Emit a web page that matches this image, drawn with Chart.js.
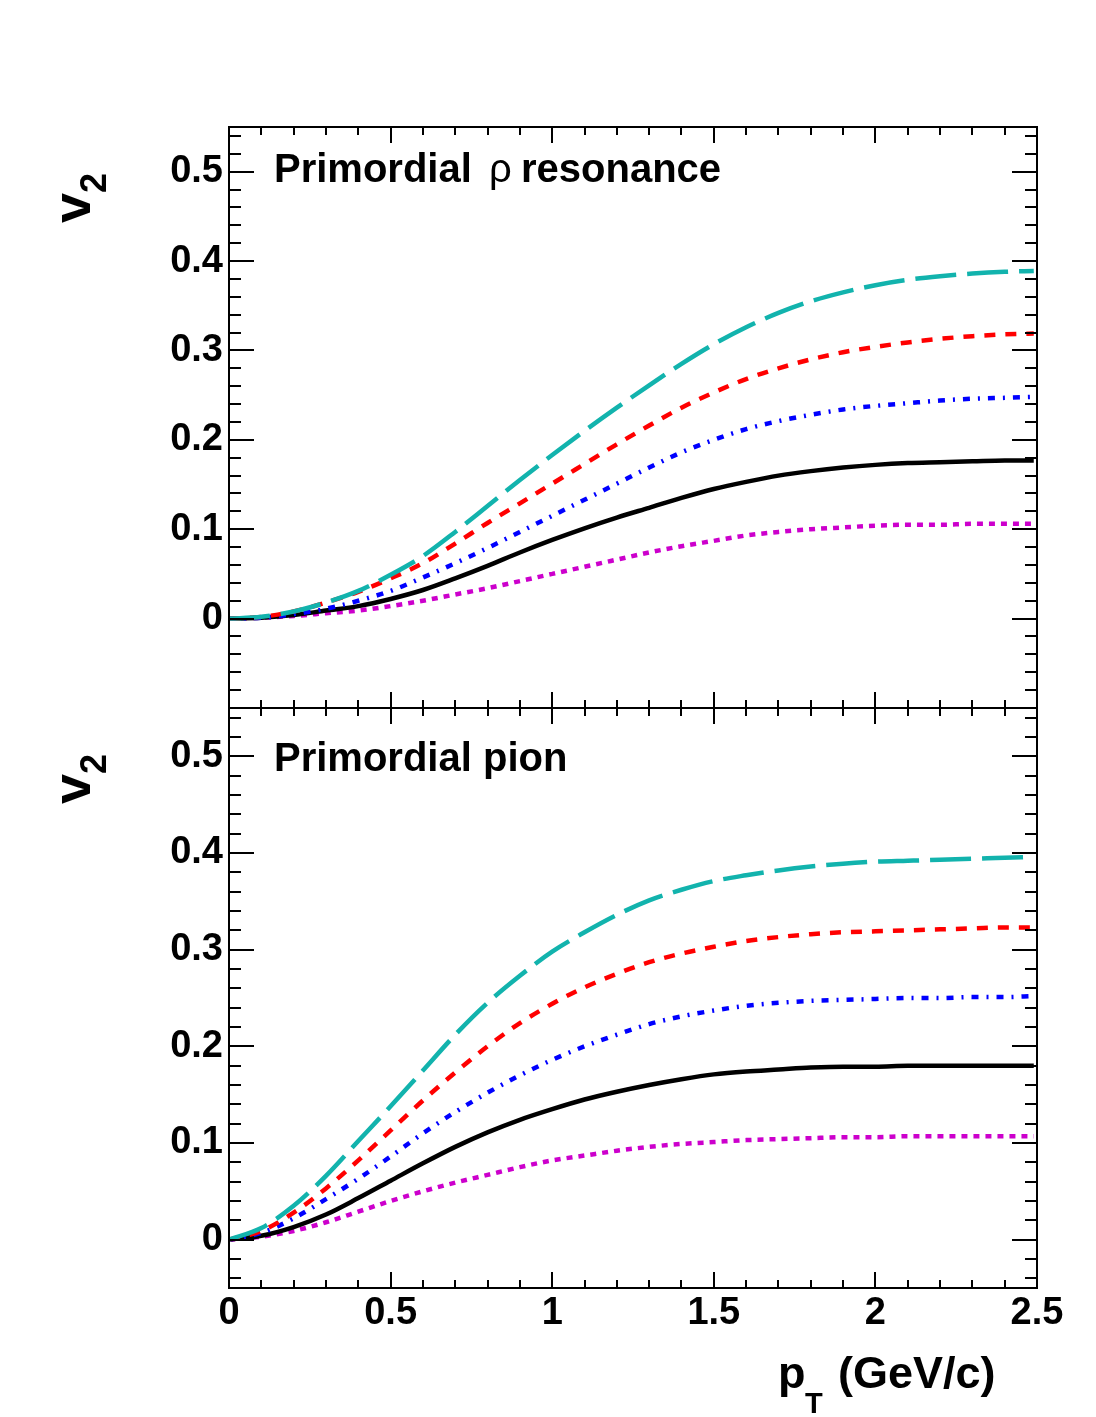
<!DOCTYPE html>
<html>
<head>
<meta charset="utf-8">
<script src="https://cdn.jsdelivr.net/npm/chart.js@4"></script>
<style>
  html, body { margin: 0; background: #fff; }
  canvas { position: absolute; left: 0; top: 0; }
</style>
</head>
<body>
<canvas id="rhoChart" width="1096" height="1417"></canvas>
<canvas id="pionChart" width="1096" height="1417"></canvas>
<script>
// pT grid (GeV/c) shared by every curve
const ptGrid = [0, 0.1, 0.2, 0.3, 0.4, 0.5, 0.6, 0.7, 0.8, 0.9, 1.0, 1.1, 1.2,
  1.3, 1.4, 1.5, 1.6, 1.7, 1.8, 1.9, 2.0, 2.1, 2.2, 2.3, 2.4, 2.49];

// top panel: primordial rho resonance
const rhoCyan = [0, 0.002, 0.008, 0.018, 0.031, 0.049, 0.070, 0.097, 0.126, 0.155, 0.183, 0.210, 0.236,
  0.261, 0.285, 0.307, 0.326, 0.342, 0.355, 0.365, 0.373, 0.379, 0.383, 0.386, 0.388, 0.389];
const rhoRed = [0, 0.002, 0.008, 0.018, 0.030, 0.045, 0.062, 0.084, 0.107, 0.129, 0.151, 0.173, 0.195,
  0.216, 0.236, 0.253, 0.268, 0.280, 0.290, 0.298, 0.304, 0.309, 0.313, 0.316, 0.318, 0.319];
const rhoBlue = [0, 0.001, 0.005, 0.011, 0.020, 0.031, 0.046, 0.062, 0.079, 0.097, 0.115, 0.133, 0.151,
  0.169, 0.186, 0.200, 0.212, 0.221, 0.228, 0.234, 0.238, 0.241, 0.244, 0.246, 0.247, 0.248];
const rhoBlack = [0, 0.001, 0.004, 0.009, 0.014, 0.022, 0.032, 0.045, 0.059, 0.074, 0.088, 0.101, 0.113,
  0.124, 0.135, 0.145, 0.153, 0.160, 0.165, 0.169, 0.172, 0.174, 0.175, 0.176, 0.177, 0.177];
const rhoMagenta = [0, 0.001, 0.003, 0.006, 0.009, 0.014, 0.020, 0.027, 0.034, 0.042, 0.050, 0.058, 0.066,
  0.074, 0.081, 0.087, 0.093, 0.097, 0.100, 0.102, 0.104, 0.105, 0.105, 0.106, 0.106, 0.106];

// bottom panel: primordial pion
const pionCyan = [0, 0.012, 0.035, 0.066, 0.102, 0.138, 0.175, 0.212, 0.245, 0.273, 0.298, 0.318, 0.336,
  0.351, 0.362, 0.371, 0.377, 0.382, 0.386, 0.389, 0.391, 0.392, 0.393, 0.394, 0.395, 0.396];
const pionRed = [0, 0.009, 0.028, 0.053, 0.082, 0.113, 0.144, 0.173, 0.200, 0.224, 0.244, 0.261, 0.275,
  0.287, 0.296, 0.303, 0.309, 0.313, 0.316, 0.318, 0.319, 0.320, 0.321, 0.322, 0.323, 0.323];
const pionBlue = [0, 0.007, 0.022, 0.042, 0.063, 0.086, 0.110, 0.132, 0.152, 0.170, 0.186, 0.200, 0.212,
  0.223, 0.231, 0.237, 0.242, 0.245, 0.247, 0.248, 0.249, 0.250, 0.250, 0.251, 0.251, 0.252];
const pionBlack = [0, 0.004, 0.013, 0.026, 0.043, 0.061, 0.079, 0.096, 0.111, 0.124, 0.135, 0.145, 0.153,
  0.160, 0.166, 0.171, 0.174, 0.176, 0.178, 0.179, 0.179, 0.180, 0.180, 0.180, 0.180, 0.180];
const pionMagenta = [0, 0.003, 0.009, 0.018, 0.029, 0.040, 0.050, 0.059, 0.067, 0.075, 0.082, 0.087, 0.092,
  0.096, 0.099, 0.101, 0.103, 0.104, 0.105, 0.106, 0.106, 0.107, 0.107, 0.107, 0.107, 0.107];

// tick labels
const xTicks = [0, 0.5, 1, 1.5, 2, 2.5];
const yTicks = [0, 0.1, 0.2, 0.3, 0.4, 0.5];

const FONT = '"Liberation Sans", Arial, Helvetica, sans-serif';
Chart.defaults.font.family = FONT;

const lineStyles = [
  { color: '#12b3ad', dash: [41, 11] },
  { color: '#ff0000', dash: [11, 10] },
  { color: '#0000ff', dash: [7, 8, 2, 8] },
  { color: '#000000', dash: [] },
  { color: '#cc00cc', dash: [6, 6] }
];

function makeDatasets(series) {
  return series.map((vals, i) => ({
    data: ptGrid.map((p, j) => ({ x: p, y: vals[j] })),
    borderColor: lineStyles[i].color,
    borderDash: lineStyles[i].dash,
    borderWidth: 4.5,
    borderCapStyle: 'butt',
    pointRadius: 0,
    fill: false,
    cubicInterpolationMode: 'monotone'
  }));
}

function fmt(v) {
  return v === 0 ? '0' : String(Math.round(v * 10) / 10);
}

// ROOT-like frame with inward ticks on all four sides, plus text
const rootFrame = {
  id: 'rootFrame',
  afterDraw(chart, args, opts) {
    const ctx = chart.ctx;
    const a = chart.chartArea;
    const xs = chart.scales.x, ys = chart.scales.y;
    ctx.save();
    ctx.strokeStyle = '#000';
    ctx.lineWidth = 2;
    ctx.beginPath();
    for (let k = 0; k <= 25; k++) {
      const px = Math.round(xs.getPixelForValue(k / 10));
      const len = k % 5 === 0 ? 16 : 8;
      ctx.moveTo(px, a.top); ctx.lineTo(px, a.top + len);
      ctx.moveTo(px, a.bottom); ctx.lineTo(px, a.bottom - len);
    }
    const kMin = Math.ceil(ys.min / 0.02 - 1e-6), kMax = Math.floor(ys.max / 0.02 + 1e-6);
    for (let k = kMin; k <= kMax; k++) {
      const py = Math.round(ys.getPixelForValue(k * 0.02));
      const len = k % 5 === 0 ? 25 : 12;
      ctx.moveTo(a.left, py); ctx.lineTo(a.left + len, py);
      ctx.moveTo(a.right, py); ctx.lineTo(a.right - len, py);
    }
    ctx.stroke();
    ctx.strokeRect(a.left, a.top, a.right - a.left, a.bottom - a.top);

    ctx.fillStyle = '#000';
    ctx.textBaseline = 'alphabetic';
    ctx.textAlign = 'left';
    // panel label
    opts.label.forEach(part => {
      ctx.font = part.weight + ' 40px ' + FONT;
      ctx.fillText(part.text, part.x, opts.labelY);
    });

    // y title v_2, rotated, aligned to the top of the panel
    ctx.save();
    ctx.translate(90, a.top + 46);
    ctx.rotate(-Math.PI / 2);
    ctx.font = 'bold 36px ' + FONT;
    const w2 = ctx.measureText('2').width;
    ctx.textAlign = 'right';
    ctx.fillText('2', 0, 16);
    ctx.font = 'bold 54px ' + FONT;
    ctx.fillText('v', -w2, 0);
    ctx.restore();

    // x title p_T (GeV/c)
    if (opts.xTitle) {
      ctx.font = 'bold 45px ' + FONT;
      ctx.fillText('p', 778, 1388);
      ctx.fillText('(GeV/c)', 838, 1388);
      ctx.font = 'bold 29px ' + FONT;
      ctx.fillText('T', 805, 1413);
    }
    ctx.restore();
  }
};

function makeOptions(yMin, isBottom, panel) {
  return {
    responsive: false,
    animation: false,
    devicePixelRatio: 1,
    layout: { padding: { top: isBottom ? 708 : 127, bottom: isBottom ? 0 : 1417 - 708, left: 0, right: 59 } },
    plugins: {
      legend: { display: false },
      tooltip: { enabled: false },
      rootFrame: panel
    },
    scales: {
      x: {
        type: 'linear', min: 0, max: 2.5,
        display: isBottom,
        grid: { display: false, drawTicks: false },
        border: { display: false },
        afterBuildTicks: s => { s.ticks = xTicks.map(v => ({ value: v })); },
        afterFit: s => { s.height = isBottom ? 129 : 0; },
        ticks: {
          padding: 3, autoSkip: false, maxRotation: 0, minRotation: 0,
          color: '#000', font: { size: 38, weight: 'bold' },
          callback: v => fmt(v)
        }
      },
      y: {
        min: yMin, max: 0.55,
        grid: { display: false, drawTicks: false },
        border: { display: false },
        afterBuildTicks: s => { s.ticks = yTicks.map(v => ({ value: v })); },
        afterFit: s => { s.width = 229; },
        ticks: {
          padding: 6, autoSkip: false,
          color: '#000', font: { size: 38, weight: 'bold' },
          callback: v => fmt(v)
        }
      }
    }
  };
}

new Chart(document.getElementById('rhoChart').getContext('2d'), {
  type: 'line',
  data: { datasets: makeDatasets([rhoCyan, rhoRed, rhoBlue, rhoBlack, rhoMagenta]) },
  options: makeOptions(-0.1, false, {
    labelY: 182,
    label: [
      { text: 'Primordial', x: 274, weight: 'bold' },
      { text: 'ρ', x: 489, weight: 'normal' },
      { text: 'resonance', x: 521, weight: 'bold' }
    ],
    xTitle: false
  }),
  plugins: [rootFrame]
});

new Chart(document.getElementById('pionChart').getContext('2d'), {
  type: 'line',
  data: { datasets: makeDatasets([pionCyan, pionRed, pionBlue, pionBlack, pionMagenta]) },
  options: makeOptions(-0.05, true, {
    labelY: 771,
    label: [{ text: 'Primordial pion', x: 274, weight: 'bold' }],
    xTitle: true
  }),
  plugins: [rootFrame]
});
</script>
</body>
</html>
